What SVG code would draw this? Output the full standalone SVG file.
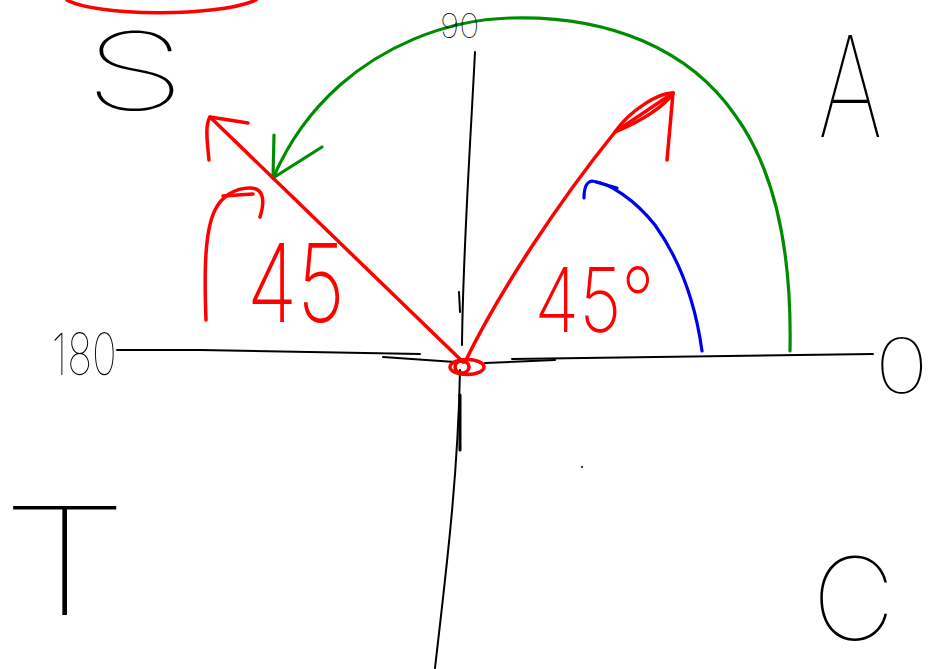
<svg xmlns="http://www.w3.org/2000/svg" width="933" height="669" viewBox="0 0 933 669">
<style>
.k{fill:none;stroke:#000;stroke-width:2;stroke-linecap:round;stroke-linejoin:round}
.r{fill:none;stroke:#f00;stroke-width:3.5;stroke-linecap:round;stroke-linejoin:round}
.g{fill:none;stroke:#008c00;stroke-width:3.2;stroke-linecap:round;stroke-linejoin:round}
.b{fill:none;stroke:#0000f0;stroke-width:3.2;stroke-linecap:round;stroke-linejoin:round}
.tk{font-family:Inter,Roboto,"DejaVu Sans",sans-serif;font-weight:100;fill:#000}
.tr{font-family:Inter,Roboto,"DejaVu Sans",sans-serif;font-weight:200;fill:#f00}
</style>
<rect width="933" height="669" fill="#fff"/>
<g id="top-ellipse">
<path class="r" d="M67 0 C95 16 215 18 256 0"/>
</g>
<g id="axes">
<path class="k" d="M117 350 L200 350 L420 354"/>
<path class="k" d="M383 357 L455 362"/>
<path class="k" d="M485 363 L555 360"/>
<path class="k" d="M512 359 L873 354"/>
<path class="k" d="M475 52 C470 150 463 250 462 345"/>
<path class="k" d="M459 292 L460 312"/>
<path class="k" d="M460 370 C458 480 445 580 435 668"/>
<path class="k" d="M460 395 L460 450" style="stroke-width:3"/>
<circle cx="582" cy="467" r="1" fill="#000"/>
</g>
<g id="connectors">
<path class="g" d="M790 351 C792 250 775 170 735 115 C690 50 610 15 510 18 C440 20 380 50 340 85 C310 112 290 140 273 178"/>
<path class="g" d="M274 135 L273 178 L322 147"/>
<path class="r" d="M463 362 L210 117"/>
<path class="r" d="M209 160 C207 140 205 125 210 117 L248 123"/>
<path class="r" d="M465 362 C500 290 560 200 615 132 L673 93"/>
<path class="r" d="M615 132 C630 110 660 92 673 93 C665 106 640 122 615 132"/>
<path class="r" d="M673 93 L667 160"/>
<ellipse class="r" cx="467" cy="367" rx="17" ry="7.5"/>
<ellipse class="r" cx="462" cy="367" rx="7" ry="6"/>
<path class="b" d="M702 351 C695 300 680 260 655 225 C635 200 610 183 592 181 C585 182 584 190 584 198"/>
<path class="b" d="M596 182 L617 188"/>
<path class="r" d="M206 320 C204 270 205 230 215 210 C222 196 235 188 250 188 C262 188 266 198 260 217"/>
<path class="r" d="M223 196 L253 194"/>
</g>
<g id="labels">
<text class="tk" x="440" y="38" font-size="34">90</text>
<text class="tk" x="72" y="375" font-size="58" transform="scale(0.72,1)">180</text>
<text class="tk" x="54" y="110" font-size="108" transform="scale(1.55,1)">S</text>
<text class="tk" x="1136" y="137" font-size="140" transform="scale(0.72,1)">A</text>
<text class="tk" x="0" y="615" font-size="150" transform="scale(1.4,1)">T</text>
<text class="tk" x="812" y="640" font-size="115">C</text>
<text class="tk" x="729" y="393" font-size="76" transform="scale(1.2,1)">0</text>
<text class="tr" x="325" y="322" font-size="108" transform="scale(0.76,1)">45</text>
<text class="tr" x="660" y="332" font-size="90" transform="scale(0.81,1)">45°</text>
</g>
</svg>
